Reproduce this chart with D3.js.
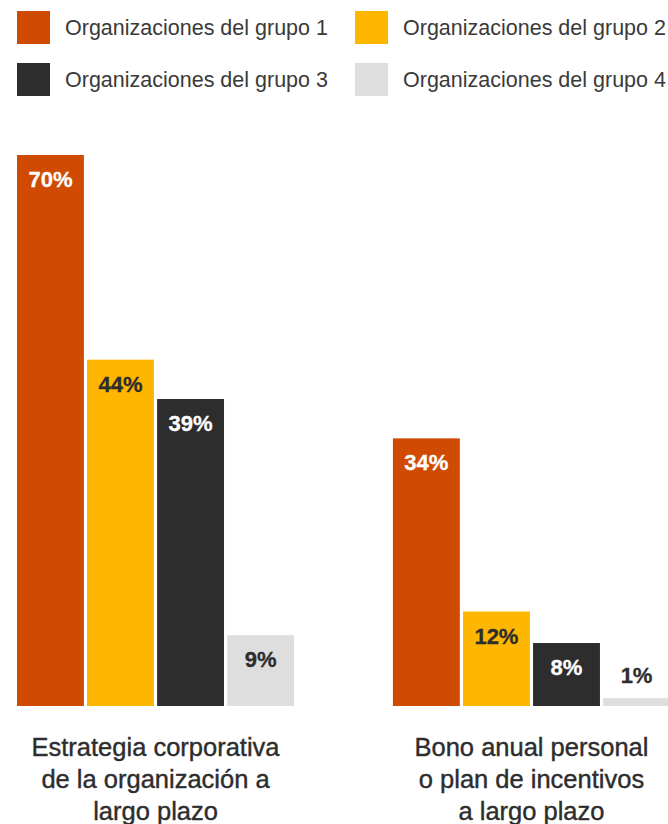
<!DOCTYPE html>
<html>
<head>
<meta charset="utf-8">
<script src="https://cdn.jsdelivr.net/npm/d3@7"></script>
<style>
  html, body { margin: 0; padding: 0; background: #fff; }
  svg { display: block; }
  text { font-family: "Liberation Sans", Arial, Helvetica, sans-serif; }
</style>
</head>
<body>
<div id="chart"></div>
<script>
// Chart data
const categories = [
  ["Estrategia corporativa", "de la organización a", "largo plazo"],
  ["Bono anual personal", "o plan de incentivos", "a largo plazo"]
];
const seriesNames = [
  "Organizaciones del grupo 1",
  "Organizaciones del grupo 2",
  "Organizaciones del grupo 3",
  "Organizaciones del grupo 4"
];
const grupo1 = [70, 34];
const grupo2 = [44, 12];
const grupo3 = [39, 8];
const grupo4 = [9, 1];

const seriesValues = [grupo1, grupo2, grupo3, grupo4];
const colors = ["#D04A02", "#FFB600", "#2D2D2D", "#DEDEDE"];
const labelColors = ["#FFFFFF", "#2D2D2D", "#FFFFFF", "#2D2D2D"];

const W = 668, H = 824;
const svg = d3.select("#chart").append("svg")
  .attr("width", W).attr("height", H);

// Scales
const catIdx = categories.map((d, i) => i);
const x0 = d3.scaleBand().domain(catIdx).range([17, 670]).paddingInner(0.263);
const x1 = d3.scaleBand().domain(d3.range(seriesNames.length))
  .range([0, x0.bandwidth()]).paddingInner(0.045);
const y = d3.scaleLinear().domain([0, 70]).range([706, 155]);

// Legend
const legend = svg.append("g");
const legendPos = [[17, 11], [355, 11], [17, 63], [355, 63]];
seriesNames.forEach((name, i) => {
  const g = legend.append("g").attr("transform", `translate(${legendPos[i][0]},${legendPos[i][1]})`);
  g.append("rect").attr("width", 33).attr("height", 33).attr("fill", colors[i]);
  g.append("text").attr("x", 48).attr("y", 24)
    .attr("font-size", 21.5).attr("fill", "#3A3A3A").text(name);
});

// Bars
const groups = svg.append("g").selectAll("g")
  .data(catIdx).join("g")
  .attr("transform", c => `translate(${x0(c)},0)`);

groups.each(function (c) {
  const g = d3.select(this);
  seriesValues.forEach((vals, s) => {
    const v = vals[c];
    const bx = x1(s), bw = x1.bandwidth();
    const top = y(v), h = y(0) - y(v);
    g.append("rect").attr("x", bx).attr("y", top)
      .attr("width", bw).attr("height", h).attr("fill", colors[s]);
    const inside = h > 40;
    const fill = inside ? labelColors[s] : "#2D2D2D";
    g.append("text")
      .attr("x", bx + bw / 2)
      .attr("y", inside ? top + 32 : top - 15)
      .attr("text-anchor", "middle")
      .attr("font-size", 22).attr("font-weight", "bold")
      .attr("fill", fill).attr("stroke", fill).attr("stroke-width", 0.3)
      .text(v + "%");
  });
});

// Category labels
groups.append("text")
  .attr("x", x0.bandwidth() / 2)
  .attr("text-anchor", "middle")
  .attr("font-size", 25.5).attr("fill", "#2D2D2D")
  .attr("stroke", "#2D2D2D").attr("stroke-width", 0.4)
  .selectAll("tspan")
  .data(c => categories[c])
  .join("tspan")
  .attr("x", x0.bandwidth() / 2)
  .attr("y", (d, i) => 756 + i * 32)
  .text(d => d);
</script>
</body>
</html>
